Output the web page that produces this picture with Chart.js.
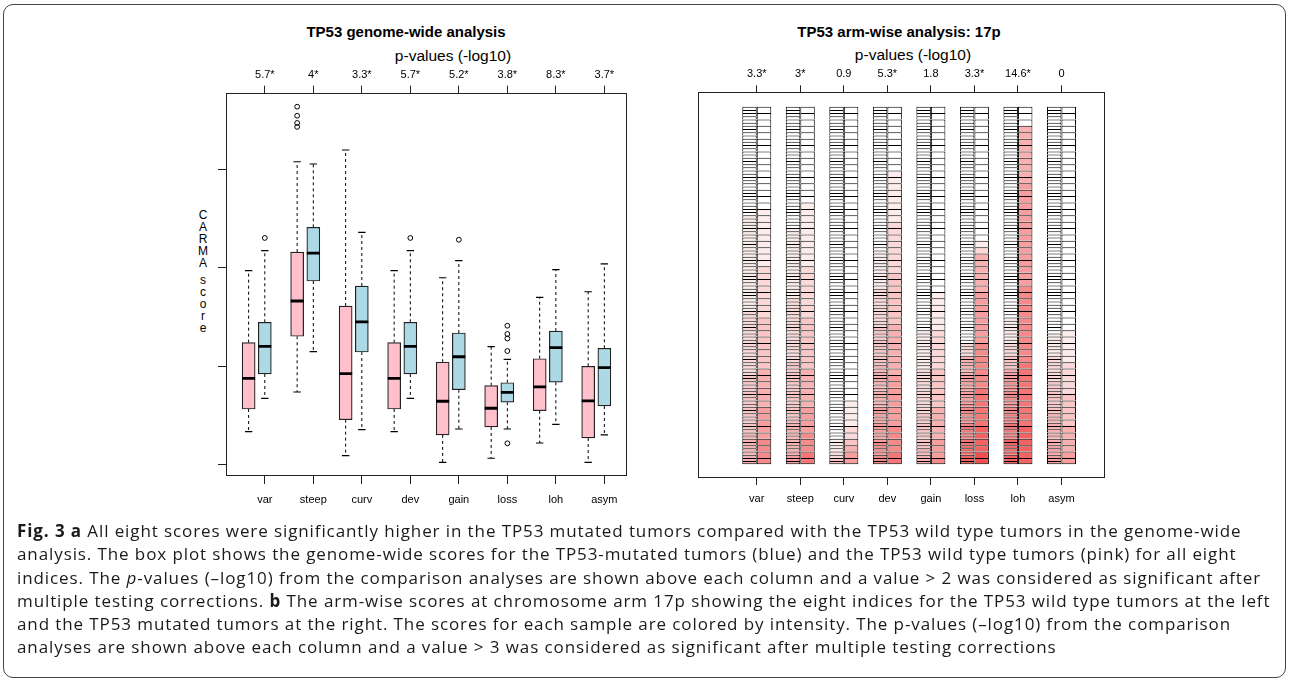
<!DOCTYPE html>
<html>
<head>
<meta charset="utf-8">
<script src="https://cdn.jsdelivr.net/npm/chart.js@4.4.1/dist/chart.umd.min.js"></script>
<style>
html,body{margin:0;padding:0;background:#fff;}
body{width:1292px;height:683px;position:relative;overflow:hidden;font-family:"Liberation Sans",Arial,sans-serif;color:#000;}
#frame{position:absolute;left:3px;top:4px;width:1283px;height:674px;border:1.3px solid #444;border-radius:10px;box-sizing:border-box;}
.t{position:absolute;transform:translate(-50%,-50%);white-space:nowrap;line-height:1;}
.title{font-weight:bold;font-size:15px;}
.sub{font-size:15.5px;}
#ylab{position:absolute;left:197px;top:209px;width:12px;font-size:12px;line-height:12px;text-align:center;}
#ylab i{display:block;height:5px;}
#cap{position:absolute;left:17px;top:519px;font-family:"Open Sans",sans-serif;font-size:17px;letter-spacing:0.9px;line-height:23.3px;color:#1a1a1a;}
#cap div{white-space:nowrap;}
canvas{position:absolute;top:0;}
</style>
</head>
<body>
<div id="frame"></div>

<div class="t title" style="left:406px;top:31px">TP53 genome-wide analysis</div>
<div class="t sub" style="left:453px;top:56px">p-values (-log10)</div>
<div id="ylab">C<br>A<br>R<br>M<br>A<br><i></i>s<br>c<br>o<br>r<br>e</div>
<canvas id="genome" width="520" height="520" style="left:150px;width:520px;height:520px"></canvas>

<div class="t title" style="left:899px;top:31px">TP53 arm-wise analysis: 17p</div>
<div class="t sub" style="left:913px;top:55px">p-values (-log10)</div>
<canvas id="arm" width="480" height="520" style="left:660px;width:480px;height:520px"></canvas>

<div id="cap">
<div><b>Fig. 3 a</b> All eight scores were significantly higher in the TP53 mutated tumors compared with the TP53 wild type tumors in the genome-wide</div>
<div>analysis. The box plot shows the genome-wide scores for the TP53-mutated tumors (blue) and the TP53 wild type tumors (pink) for all eight</div>
<div>indices. The <i>p</i>-values (–log10) from the comparison analyses are shown above each column and a value &gt; 2 was considered as significant after</div>
<div>multiple testing corrections. <b>b</b> The arm-wise scores at chromosome arm 17p showing the eight indices for the TP53 wild type tumors at the left</div>
<div>and the TP53 mutated tumors at the right. The scores for each sample are colored by intensity. The p-values (–log10) from the comparison</div>
<div>analyses are shown above each column and a value &gt; 3 was considered as significant after multiple testing corrections</div>
</div>

<script>
/* ---------- data ---------- */
const indexNames = ['var','steep','curv','dev','gain','loss','loh','asym'];
const genomeP = ['5.7*','4*','3.3*','5.7*','5.2*','3.8*','8.3*','3.7*'];
const armP    = ['3.3*','3*','0.9','5.3*','1.8','3.3*','14.6*','0'];

// genome-wide CARMA score, TP53 wild type (pink)
const wtLow  = [0.335,0.738,0.091,0.335,0.024,0.065,0.220,0.024];
const wtQ1   = [0.565,1.304,0.457,0.565,0.302,0.383,0.548,0.271];
const wtMed  = [0.877,1.662,0.924,0.877,0.644,0.573,0.789,0.647];
const wtQ3   = [1.239,2.159,1.611,1.239,1.040,0.802,1.076,0.999];
const wtHigh = [1.970,3.076,3.195,1.970,1.898,1.198,1.699,1.756];
const wtOut  = [[],[3.635,3.543,3.470,3.430],[],[],[],[],[],[]];

// genome-wide CARMA score, TP53 mutated (blue)
const mtLow  = [0.674,1.147,0.355,0.674,0.362,0.362,0.410,0.302];
const mtQ1   = [0.921,1.865,1.144,0.921,0.761,0.634,0.837,0.596];
const mtMed  = [1.202,2.149,1.449,1.202,1.096,0.735,1.188,0.985];
const mtQ3   = [1.446,2.410,1.814,1.446,1.337,0.832,1.357,1.182];
const mtHigh = [2.173,3.053,2.359,2.173,2.071,1.070,1.980,2.038];
const mtOut  = [[2.302],[],[],[2.302],[2.284],[1.411,1.327,1.281,1.154,0.217],[],[]];

// arm-wise 17p scores, one digit per sample (0 = white .. 9 = deep red), sorted top to bottom
const armWild = [
  '00000000 00000000 00000000 00000000 00111111 11111111 11111111 11111111 22222222 22222222 22223333 33333333 33333344 44444444',
  '00000000 00000000 00000000 00000000 00000011 11111111 11111111 11112222 22222222 22222222 33333333 33333333 33444444 44445555',
  '00000000 00000000 00000000 00000000 00000000 00000000 00000000 00000000 00000000 00000000 00000000 00000000 00000000 11112233',
  '00000000 00000000 00000000 00000000 00000000 00000111 11111111 12222222 22222333 33333333 34444444 44444455 55555555 56666666',
  '00000000 00000000 00000000 00000000 00000000 00000000 00000000 00000000 00000011 11111111 11222222 22222222 33333333 33344444',
  '00000000 00000000 00000000 00000000 00000000 00000000 00000000 00000000 00000000 00222244 44445555 55556666 66667777 77888888',
  '00000000 00000000 00000000 00000000 00000000 00000000 00000000 00000000 00111111 11222233 33555566 66666666 77777777 88888888',
  '00000000 00000000 00000000 00000000 00000000 00000000 00000000 00000000 00000001 11111122 22222233 33333333 44444444 44555555'
];
const armMut = [
  '00000000 00000000 11111111 12222222 23333333 34444445 55556666',
  '00000000 00000001 11111111 12222222 23333333 34444445 55566677',
  '00000000 00000000 00000000 00000000 00000000 00000011 11223455',
  '00000000 00111111 11222222 22333333 33444444 44555555 55666677',
  '00000000 00000000 00000000 00000111 11122222 23333334 44445556',
  '00000000 00000000 00000124 44444555 55555666 66667777 77888899',
  '00044444 44445555 55555555 55556666 66666666 77777777 77888888',
  '00000000 00000000 00000000 00000000 00011111 22222333 33444455'
];

/* ---------- helpers ---------- */
const tickPos = indexNames.map((_, k) => k * 3 + 2);
const setTicks = axis => { axis.ticks = tickPos.map(v => ({value: v})); };
const tickFont = {family: '"Liberation Sans", Arial, sans-serif', size: 11};
const shade = d => {
  const v = d / 9;
  return `rgb(${Math.round(255 - 15 * v)},${Math.round(255 - 175 * v)},${Math.round(255 - 175 * v)})`;
};
const framePlugin = {
  id: 'frame',
  afterDraw(chart) {
    const a = chart.chartArea, g = chart.ctx;
    g.save();
    g.strokeStyle = '#222';
    g.lineWidth = 1;
    g.strokeRect(Math.round(a.left) + 0.5, Math.round(a.top) + 0.5,
                 Math.round(a.right - a.left) - 1, Math.round(a.bottom - a.top) - 1);
    g.restore();
  }
};
const xAxis = (labels, pos, h, tl, pad) => ({
  type: 'linear', position: pos, offset: false,
  afterBuildTicks: setTicks,
  afterFit: s => { s.height = h; },
  grid: {offset: false, drawOnChartArea: false, drawTicks: true, tickLength: tl, color: '#222'},
  border: {display: false},
  ticks: {callback: (v, i) => labels[i], font: tickFont, color: '#000', padding: pad, autoSkip: false, maxRotation: 0}
});

/* ---------- genome-wide box plot ---------- */
const wtBoxes = [], mtBoxes = [], medians = [], caps = [], whiskers = [], outliers = [];
indexNames.forEach((_, k) => {
  const xw = k * 3 + 1, xm = k * 3 + 2;
  wtBoxes.push({x: xw, y: [wtQ1[k], wtQ3[k]]});
  mtBoxes.push({x: xm, y: [mtQ1[k], mtQ3[k]]});
  medians.push({x: xw, y: wtMed[k]}, {x: xm, y: mtMed[k]});
  caps.push({x: xw, y: wtLow[k]}, {x: xw, y: wtHigh[k]}, {x: xm, y: mtLow[k]}, {x: xm, y: mtHigh[k]});
  whiskers.push({x: xw, y: wtQ3[k]}, {x: xw, y: wtHigh[k]}, {x: xw, y: null},
                {x: xw, y: wtQ1[k]}, {x: xw, y: wtLow[k]}, {x: xw, y: null},
                {x: xm, y: mtQ3[k]}, {x: xm, y: mtHigh[k]}, {x: xm, y: null},
                {x: xm, y: mtQ1[k]}, {x: xm, y: mtLow[k]}, {x: xm, y: null});
  wtOut[k].forEach(v => outliers.push({x: xw, y: v}));
  mtOut[k].forEach(v => outliers.push({x: xm, y: v}));
});

new Chart(document.getElementById('genome'), {
  type: 'bar',
  data: {datasets: [
    {type: 'scatter', label: 'median', data: medians, pointStyle: 'line', pointRadius: 6.5,
     pointBorderWidth: 2.8, pointBorderColor: '#000', order: 0},
    {type: 'scatter', label: 'outliers', data: outliers, pointStyle: 'circle', pointRadius: 2.4,
     pointBorderWidth: 1, pointBorderColor: '#000', pointBackgroundColor: 'rgba(0,0,0,0)', order: 1},
    {type: 'scatter', label: 'caps', data: caps, pointStyle: 'line', pointRadius: 3.7,
     pointBorderWidth: 1.2, pointBorderColor: '#000', order: 1},
    {type: 'bar', label: 'TP53 wild type', data: wtBoxes, backgroundColor: '#ffc0cb', borderColor: '#222',
     borderWidth: 1.2, borderSkipped: false, barThickness: 13, grouped: false, order: 2},
    {type: 'bar', label: 'TP53 mutated', data: mtBoxes, backgroundColor: '#add8e6', borderColor: '#222',
     borderWidth: 1.2, borderSkipped: false, barThickness: 13, grouped: false, order: 2},
    {type: 'line', label: 'whiskers', data: whiskers, borderColor: '#000', borderWidth: 1, borderDash: [3, 3],
     pointRadius: 0, spanGaps: false, fill: false, order: 3}
  ]},
  options: {
    responsive: false, animation: false,
    layout: {padding: {left: 0, right: 43, top: 0, bottom: 0}},
    plugins: {legend: {display: false}, tooltip: {enabled: false}},
    scales: {
      x: {...xAxis(indexNames, 'bottom', 44, 8, 9), min: -0.4, max: 24.4},
      x2: {...xAxis(genomeP, 'top', 92.7, 7, 4), min: -0.4, max: 24.4},
      y: {
        min: -0.115, max: 3.777,
        afterBuildTicks: a => { a.ticks = [0, 1, 2, 3].map(v => ({value: v})); },
        afterFit: s => { s.width = 76; },
        grid: {drawOnChartArea: false, drawTicks: true, tickLength: 8, color: '#222'},
        border: {display: false},
        ticks: {callback: () => '', font: tickFont}
      }
    }
  },
  plugins: [framePlugin]
});

/* ---------- arm-wise 17p heat columns ---------- */
const cells = [];
function addCells(str, x) {
  const lv = str.replace(/ /g, '').split('').map(Number);
  const n = lv.length;
  lv.forEach((v, i) => cells.push({x, y: [1 - (i + 1) / n, 1 - i / n], v, last: i === n - 1}));
}
indexNames.forEach((_, k) => {
  addCells(armWild[k], k * 3 + 1.5);
  addCells(armMut[k], k * 3 + 2.5);
});

new Chart(document.getElementById('arm'), {
  type: 'bar',
  data: {datasets: [{
    label: '17p', data: cells,
    backgroundColor: c => shade(c.raw.v),
    borderColor: '#000',
    borderWidth: c => ({top: 1, left: 1, right: 1, bottom: c.raw.last ? 1 : 0}),
    borderSkipped: false, barThickness: 14.5, grouped: false, inflateAmount: 0
  }]},
  options: {
    responsive: false, animation: false,
    layout: {padding: {left: 38, right: 35, top: 0, bottom: 0}},
    plugins: {legend: {display: false}, tooltip: {enabled: false}},
    scales: {
      x: {...xAxis(indexNames, 'bottom', 42, 7, 7), min: -2.05, max: 26.0},
      x2: {...xAxis(armP, 'top', 92.3, 7, 5), min: -2.05, max: 26.0},
      y: {display: false, min: -0.0383, max: 1.0403}
    }
  },
  plugins: [framePlugin]
});
</script>
</body>
</html>
